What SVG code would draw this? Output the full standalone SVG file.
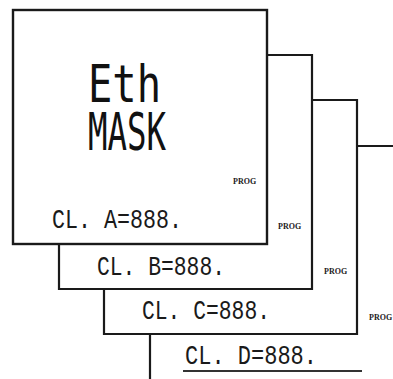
<svg xmlns="http://www.w3.org/2000/svg" width="393" height="379" viewBox="0 0 393 379">
<style>
.edge{fill:none;stroke:#1a1a1a;stroke-width:2.2;stroke-linejoin:miter}
.scr{fill:#fff;stroke:#1a1a1a;stroke-width:2.4}
.prog{font-family:"Liberation Serif",serif;font-weight:bold;font-size:8px;fill:#222}
.seg{font-family:"Liberation Mono","DejaVu Sans Mono",monospace;font-size:27px;fill:#1a1a1a}
.big{font-family:"DejaVu Sans Mono","Liberation Mono",monospace;font-size:52px;fill:#111}
</style>
<rect width="393" height="379" fill="#fff"/>
<g id="screen4">
<path class="edge" d="M150,334 V379 M357,146 H393"/>
<line x1="183" y1="371" x2="362" y2="371" stroke="#333" stroke-width="2"/>
<text class="prog" x="369" y="320">PROG</text>
<text class="seg" x="185" y="364" textLength="132" lengthAdjust="spacingAndGlyphs">CL. D=888.</text>
</g>
<g id="screen3">
<path class="edge" d="M104,289 V334 H357 V100 H312"/>
<text class="prog" x="324" y="274">PROG</text>
<text class="seg" x="142" y="319" textLength="128" lengthAdjust="spacingAndGlyphs">CL. C=888.</text>
</g>
<g id="screen2">
<path class="edge" d="M59,244 V289 H312 V55 H267"/>
<text class="prog" x="278" y="229">PROG</text>
<text class="seg" x="97" y="275" textLength="128" lengthAdjust="spacingAndGlyphs">CL. B=888.</text>
</g>
<g id="screen1">
<rect class="scr" x="13" y="10" width="254" height="234"/>
<text class="big"><tspan x="88" y="102" textLength="73" lengthAdjust="spacingAndGlyphs">Eth</tspan><tspan x="88" y="150" textLength="78" lengthAdjust="spacingAndGlyphs">MASK</tspan></text>
<text class="prog" x="233" y="184">PROG</text>
<text class="seg" x="52" y="228" textLength="130" lengthAdjust="spacingAndGlyphs">CL. A=888.</text>
</g>
</svg>
